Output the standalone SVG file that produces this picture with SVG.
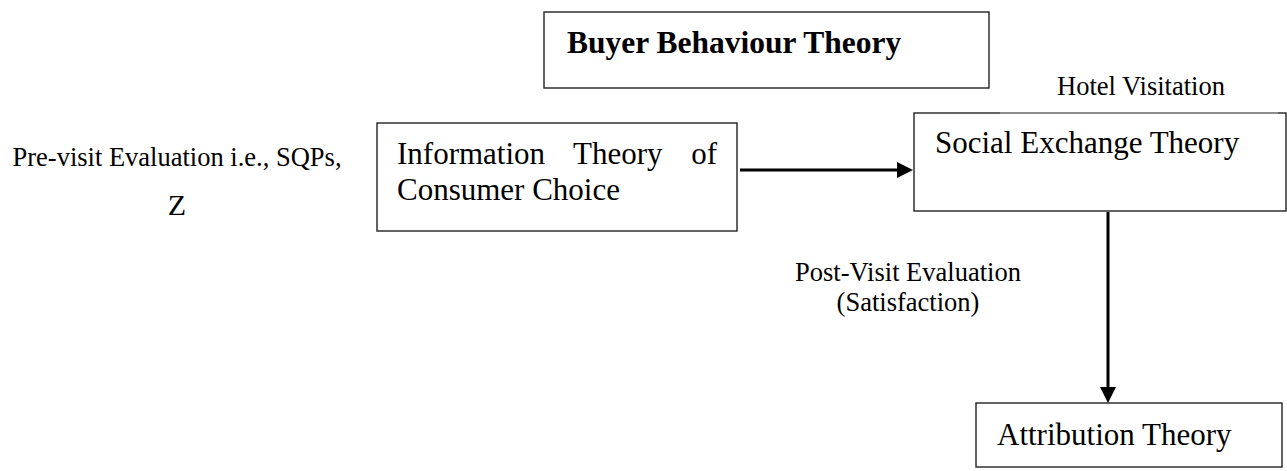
<svg xmlns="http://www.w3.org/2000/svg" width="1287" height="471" viewBox="0 0 1287 471">
  <style>
    .box { fill: #ffffff; stroke: #222222; stroke-width: 1.4; }
    .t { font-family: "Liberation Serif", "Times New Roman", serif; fill: #000000; }
    .big { font-size: 31px; }
    .lbl { font-size: 26.5px; }
    .bold { font-weight: bold; font-size: 31.5px; }
    .conn { stroke: #000000; stroke-width: 3; fill: none; }
  </style>
  <defs>
    <marker id="head" viewBox="0 0 16 16" refX="0" refY="8" markerWidth="16" markerHeight="16" markerUnits="userSpaceOnUse" orient="auto">
      <path d="M0,0 L16,8 L0,16 Z" fill="#000000"/>
    </marker>
  </defs>
  <rect width="1287" height="471" fill="#ffffff"/>

  <g id="buyer-behaviour">
    <rect class="box" x="544" y="12" width="445" height="76"/>
    <text class="t bold" x="567" y="53">Buyer Behaviour Theory</text>
  </g>

  <g id="pre-visit-label">
    <text class="t lbl" x="177" y="166" text-anchor="middle">Pre-visit Evaluation i.e., SQPs,</text>
    <text class="t" x="177" y="215" font-size="30" text-anchor="middle">Z</text>
  </g>

  <g id="information-theory">
    <rect class="box" x="377" y="123" width="360" height="108"/>
    <text class="t big" x="397" y="164">Information</text>
    <text class="t big" x="573" y="164">Theory</text>
    <text class="t big" x="717" y="164" text-anchor="end">of</text>
    <text class="t big" x="397" y="200">Consumer Choice</text>
  </g>

  <g id="hotel-visitation-label">
    <text class="t lbl" x="1057" y="95">Hotel Visitation</text>
  </g>

  <g id="social-exchange">
    <rect class="box" x="914" y="113" width="372" height="98"/>
    <line x1="1000" y1="113" x2="1278" y2="113" stroke="#9a9a9a" stroke-width="1.6"/>
    <text class="t big" x="935" y="153">Social Exchange Theory</text>
  </g>

  <g id="post-visit-label">
    <text class="t lbl" x="908" y="281" text-anchor="middle">Post-Visit Evaluation</text>
    <text class="t lbl" x="908" y="311" text-anchor="middle">(Satisfaction)</text>
  </g>

  <g id="attribution-theory">
    <rect class="box" x="976" y="403" width="306" height="64"/>
    <text class="t big" x="997" y="445">Attribution Theory</text>
  </g>

  <g id="connectors">
    <line class="conn" x1="740" y1="170" x2="897" y2="170" marker-end="url(#head)"/>
    <line class="conn" x1="1108" y1="212" x2="1108" y2="387" marker-end="url(#head)"/>
  </g>
</svg>
